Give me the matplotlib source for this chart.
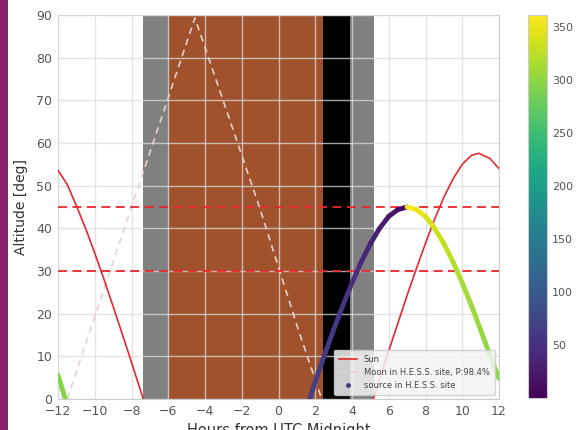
import numpy as np
import matplotlib
matplotlib.use("Agg")
import matplotlib.pyplot as plt
from matplotlib.collections import LineCollection
from matplotlib.lines import Line2D
from matplotlib.patches import Rectangle

# ---- data ----
sun_hours_a = [-12, -11.5, -11, -10.5, -10, -9.5, -9, -8.5, -8, -7.5, -7.36]
sun_alt_a   = [53.6, 50.3, 45.3, 40.0, 34.2, 28.1, 21.7, 15.2, 8.6, 1.85, 0.0]
sun_hours_b = [5.16, 5.5, 6, 6.5, 7, 7.5, 8, 8.5, 9, 9.5, 10, 10.5, 10.9, 11.5, 12]
sun_alt_b   = [0.0, 4.55, 11.3, 17.8, 24.3, 30.5, 36.5, 42.2, 47.3, 51.6, 55.0, 57.1, 57.6, 56.4, 54.0]

moon_hours = [-11.5, -10, -8, -6, -4.55, -3, -1, 1, 2.35]
moon_alt   = [0.0, 19.3, 45.0, 70.6, 89.3, 69.8, 44.5, 17.3, 0.0]

src_hours_a = [-12, -11.6]
src_alt_a   = [5.6, 0.0]
src_az_a    = [295, 294]
src_hours_b = [1.7, 2.0, 2.5, 3.0, 3.5, 4.0, 4.5, 5.0, 5.5, 6.0, 6.5, 7.0,
               7.5, 8.0, 8.5, 9.0, 9.5, 10.0, 10.5, 11.0, 11.5, 12.0]
src_alt_b   = [0.0, 4.1, 10.3, 16.2, 21.9, 27.2, 32.1, 36.4, 40.0, 42.8, 44.4, 45.0,
               44.4, 42.8, 40.0, 36.4, 32.1, 27.2, 21.9, 16.2, 10.3, 4.8]
src_az_b    = [66, 64, 61, 57, 53, 48, 42, 35, 28, 19, 10, 359,
               350, 341, 332, 325, 318, 312, 307, 303, 299, 296]

# twilight / night bands (start, end, colour)
band_starts = [-7.36, -5.96, 2.42, 3.89]
band_ends   = [-5.96, 2.42, 3.89, 5.2]
band_colors = ['#808080', '#a0522d', '#000000', '#808080']

alt_limits = [30, 45]
cbar_ticks = [50, 100, 150, 200, 250, 300, 350]

# ---- figure ----
fig = plt.figure(figsize=(5.76, 4.30), dpi=100)
fig.patches.append(Rectangle((0, 0), 8/576, 1, transform=fig.transFigure,
                             facecolor='#8a1f6e', edgecolor='none', zorder=0))
ax = fig.add_axes([58/576, 1-399/430, 441/576, 384/430])
cax = fig.add_axes([528/576, 1-398/430, 19/576, 383/430])

for s, e, c in zip(band_starts, band_ends, band_colors):
    ax.axvspan(s, e, color=c, lw=0, zorder=1)

ax.plot(sun_hours_a, sun_alt_a, color='#e8282e', lw=1.2, zorder=4, label='Sun')
ax.plot(sun_hours_b, sun_alt_b, color='#e8282e', lw=1.2, zorder=4)

ax.plot(moon_hours, moon_alt, color='#e6d2cc', lw=1.2, ls=(0, (4, 3)), zorder=3,
        label='Moon in H.E.S.S. site, P:98.4%')

norm = plt.Normalize(0, 361)
cmap = plt.get_cmap('viridis')
for hh, aa, zz in [(src_hours_a, src_alt_a, src_az_a), (src_hours_b, src_alt_b, src_az_b)]:
    pts = np.column_stack([hh, aa])
    segs = np.stack([pts[:-1], pts[1:]], axis=1)
    zmid = np.array(zz[:-1], dtype=float)
    lc = LineCollection(segs, cmap=cmap, norm=norm, linewidths=3.5, zorder=5,
                        capstyle='round')
    lc.set_array(zmid)
    ax.add_collection(lc)

for a in alt_limits:
    ax.axhline(a, color='#e8282e', lw=1.3, ls=(0, (5, 3)), zorder=4)

ax.set_xlim(-12, 12)
ax.set_ylim(0, 90)
ax.set_xticks(range(-12, 13, 2))
ax.set_yticks(range(0, 91, 10))
ax.grid(True, color='#dcdcdc', lw=1.0, alpha=0.75, zorder=2)
ax.set_axisbelow(False)
for sp in ax.spines.values():
    sp.set_color('#cccccc')
ax.tick_params(length=0, labelsize=9, colors='#555555', pad=4)
ax.set_ylabel('Altitude [deg]', fontsize=10, color='#333333', labelpad=6)
ax.set_xlabel('Hours from UTC Midnight', fontsize=10.5, color='#333333', labelpad=4)

src_handle = Line2D([], [], ls='none', marker='o', ms=2.5,
                    color=cmap(norm(60)), label='source in H.E.S.S. site')
h, l = ax.get_legend_handles_labels()
leg = ax.legend(h + [src_handle], l + ['source in H.E.S.S. site'],
                loc='lower right', fontsize=6, frameon=True, framealpha=0.85,
                facecolor='#f4f4f4', edgecolor='#cccccc', borderpad=0.6,
                handlelength=2.2)
leg.set_zorder(10)
for t in leg.get_texts():
    t.set_color('#444444')

sm = plt.cm.ScalarMappable(norm=norm, cmap=cmap)
cb = fig.colorbar(sm, cax=cax)
cb.set_ticks(cbar_ticks)
cb.outline.set_edgecolor('#cccccc')
cax.tick_params(length=0, labelsize=8, colors='#555555')

fig.savefig('out.png', dpi=100)
